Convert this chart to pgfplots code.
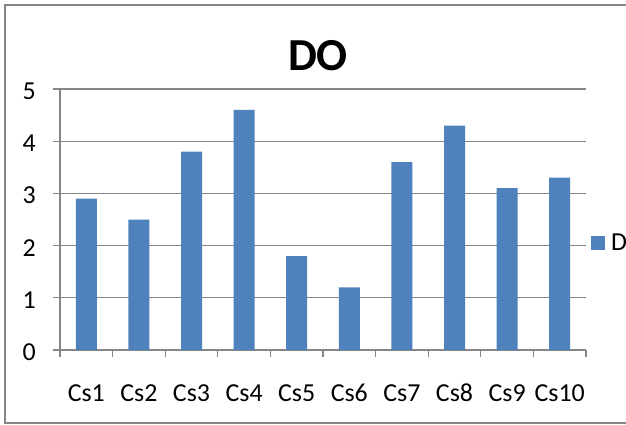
\documentclass[border=0pt]{standalone}
\usepackage{fontspec}
\setmainfont{Carlito}
\usepackage{pgfplots}
\pgfplotsset{compat=1.18}
\definecolor{barblue}{HTML}{4F81BD}
\definecolor{gridgray}{HTML}{868686}
\begin{document}
\begin{tikzpicture}[x=1bp,y=1bp]
\useasboundingbox (0,0) rectangle (626,424);
\draw[gridgray, line width=2bp] (700,419) -- (5,419) -- (5,1) -- (700,1);
\node[font=\fontsize{46}{55}\selectfont\bfseries, anchor=base] at (318,354) {DO};
\begin{axis}[
  at={(60bp,74bp)}, anchor=south west,
  scale only axis, width=526bp, height=261bp,
  xmin=0.5, xmax=10.5, ymin=0, ymax=5,
  ytick={0,1,2,3,4,5},
  xtick={0.5,1.5,...,10.5},
  xticklabels={Cs1,Cs2,Cs3,Cs4,Cs5,Cs6,Cs7,Cs8,Cs9,Cs10},
  x tick label as interval,
  /pgf/number format/assume math mode=true,
  ymajorgrids,
  major grid style={gridgray, line width=1.2bp},
  axis x line*=bottom, axis y line*=left,
  axis line style={gridgray, line width=1.2bp},
  tick style={gridgray, line width=1.2bp},
  tick align=outside, major tick length=7bp,
  ticklabel style={font=\fontsize{26}{31}\selectfont, text=black},
  yticklabel style={anchor=east, inner sep=0pt, xshift=-17bp, yshift=-2bp},
  xticklabel style={anchor=base, inner sep=0pt, yshift=-44bp},
  ybar, bar width=21bp,
  legend entries={D},
  legend image code/.code={\fill[#1] (0bp,-7bp) rectangle (14bp,7bp);},
  legend style={draw=none, fill=none, at={(1.0095,0.41)}, anchor=west,
    inner sep=0pt, font=\fontsize{26}{31}\selectfont,
    nodes={inner sep=0pt}, column sep=6bp},
]
\addplot[fill=barblue, draw=none] coordinates {
 (1,2.9) (2,2.5) (3,3.8) (4,4.6) (5,1.8)
 (6,1.2) (7,3.6) (8,4.3) (9,3.1) (10,3.3)};
\end{axis}
\end{tikzpicture}
\end{document}
